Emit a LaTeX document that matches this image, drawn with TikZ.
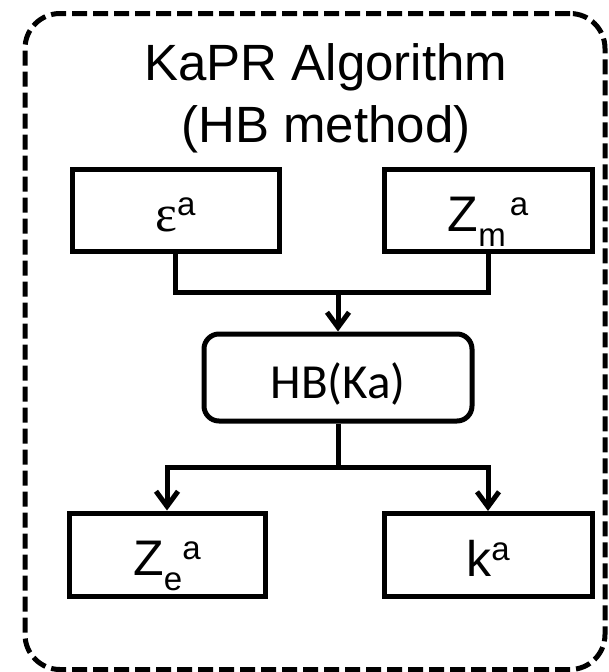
\documentclass[tikz,border=0pt]{standalone}
\usepackage{fontspec}
\setmainfont{Liberation Sans}
\newfontfamily\calibrifont{Carlito}
\newfontfamily\greekfont{Liberation Serif}
\usetikzlibrary{arrows.meta}
% raised and lowered indices in the style of a slide editor
\newcommand\supidx[1]{\raisebox{16pt}{\fontsize{33}{33}\selectfont #1}}
\newcommand\subidx[1]{\raisebox{-15pt}{\fontsize{33}{33}\selectfont #1}}
\begin{document}
\begin{tikzpicture}[x=1pt,y=-1pt,
  outline/.style={draw=black, line width=5pt, dash pattern=on 15pt off 6pt,
    rounded corners=35pt, inner sep=0pt},
  blk/.style={draw=black, line width=5pt, inner sep=0pt,
    text height=42pt, text depth=0pt, font=\fontsize{50}{50}\selectfont},
  wire/.style={draw=black, line width=5pt},
  arr/.style={wire, -{Straight Barb[length=15pt,width=22pt]}}]
\useasboundingbox (0,0) rectangle (609,672);

% dashed frame around the whole algorithm
\node[outline, minimum width=580pt, minimum height=656pt] (frame) at (315,341.5) {};

% heading
\node[anchor=north, align=center, inner sep=0pt,
  font=\fontsize{51}{62}\selectfont] (title) at (326,43)
  {KaPR Algorithm\\(HB method)};

% inputs
\node[blk, minimum width=207pt, minimum height=82pt] (eps) at (175.5,210.5)
  {{\greekfont\fontsize{52}{52}\selectfont ε}\supidx{a}};
\node[blk, minimum width=208pt, minimum height=82pt] (zm) at (488,210.5)
  {Z\subidx{m}\hspace{4pt}\supidx{a}};

% processing step
\node[blk, rounded corners=15pt, minimum width=268pt, minimum height=87pt,
  font=\calibrifont\fontsize{49}{49}\selectfont] (hb) at (338,377.5) {HB(Ka)};

% outputs
\node[blk, minimum width=196pt, minimum height=83pt] (ze) at (167,554.5)
  {Z\subidx{e}\supidx{a}};
\node[blk, minimum width=208pt, minimum height=83pt] (ka) at (488,555)
  {k\supidx{a}};

% junction points of the bus lines
\coordinate (j1) at (338,292);
\coordinate (j2) at (338,467);

\draw[wire] (eps.south) |- (j1) -| (zm.south);
\draw[arr] (j1) -- (hb.north);
\draw[wire] (hb.south) -- (j2);
\draw[arr] (j2) -| (ze.north);
\draw[arr] (j2) -| (ka.north);
\end{tikzpicture}
\end{document}
